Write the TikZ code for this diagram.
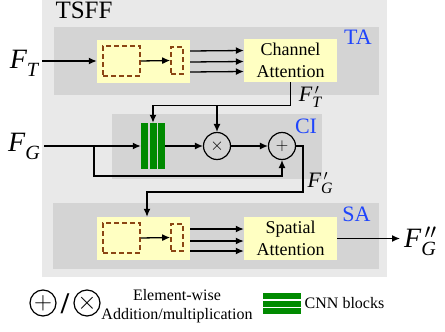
\documentclass[tikz,border=0pt]{standalone}
\usepackage{fontspec}
\setmainfont{Liberation Serif}[ItalicFont={Liberation Serif Italic}, BoldFont={Liberation Serif Bold}]
\usetikzlibrary{arrows, arrows.meta, positioning, calc}
\definecolor{tsffgray}{HTML}{E9E9E9}
\definecolor{blockgray}{HTML}{D4D4D4}
\definecolor{boxyellow}{HTML}{FFFFC2}
\definecolor{dashbrown}{HTML}{8B4513}
\definecolor{cnngreen}{HTML}{008A00}
\definecolor{tagblue}{HTML}{1F45FC}
\newcommand{\feat}[2]{{\itshape F}\rlap{\kern0.12em$^{#1}$}\raisebox{-0.28em}{\scalebox{0.72}{\itshape #2}}}

\begin{document}
\begin{tikzpicture}[x=1pt, y=-1pt]

\tikzstyle{group} = [rectangle, fill=blockgray, inner sep=0pt]
\tikzstyle{box} = [rectangle, fill=boxyellow, minimum width=93pt, minimum height=43pt, inner sep=0pt]
\tikzstyle{attn} = [box, align=center, font=\fontsize{18}{21.5}\selectfont]
\tikzstyle{pool} = [rectangle, draw=dashbrown, dash pattern=on 5pt off 3pt, line width=1.6pt, inner sep=0pt]
\tikzstyle{arrow} = [->, >={Latex[length=8pt, width=7pt]}, line width=1.3pt]
\tikzstyle{oper} = [circle, draw, line width=1.2pt, minimum size=27pt, inner sep=0pt, font=\fontsize{18}{18}\selectfont]
\tikzstyle{tag} = [text=tagblue, font=\fontsize{22}{22}\selectfont]
\tikzstyle{feat} = [font=\fontsize{28}{28}\selectfont, inner sep=4pt]
\tikzstyle{featsmall} = [font=\fontsize{22}{22}\selectfont, inner sep=0pt]
\tikzstyle{legend} = [font=\fontsize{16}{19}\selectfont, align=center]

\useasboundingbox (0,0) rectangle (445,332);

% TSFF frame
\fill[tsffgray] (42,0) rectangle (387,277);
\node[anchor=west, font=\fontsize{25}{25}\selectfont] (tsff) at (52,10) {TSFF};

% TA
\node[group, minimum width=325pt, minimum height=68pt] (ta) at (216.5,61) {};
\node[tag] (tatag) at (358,37) {TA};
\node[box] (tain) at (143.5,61) {};
\node[pool, minimum width=37pt, minimum height=30pt] (tapool) at (121.5,61) {};
\node[pool, minimum width=12pt, minimum height=27pt] (tavec) at (177,60.5) {};
\node[attn] (ca) at (290.5,60.5) {Channel\\Attention};
\node[feat] (ft) at (24,63) {\feat{}{T}};

\draw[arrow] (ft.east |- tain) -- (tain.west);
\draw[arrow] (tapool.east) -- (tavec.west);
\foreach \dy in {10,-1,-11}
  \draw[arrow] ([yshift=\dy pt]tain.east) -- ([yshift=\dy pt]ca.west);

% CI
\node[group, minimum width=210pt, minimum height=65pt] (ci) at (217,146.5) {};
\node[tag] (citag) at (306,126) {CI};
\node[rectangle, minimum width=24pt, minimum height=46pt, inner sep=0pt] (cnn) at (153,146) {};
\foreach \x in {-8.5,0,8.5}
  \fill[cnngreen] ($(cnn.center)+(\x-3.5,-23)$) rectangle ($(cnn.center)+(\x+3.5,23)$);
\node[oper] (mul) at (217,146) {$\times$};
\node[oper] (add) at (282,146) {$+$};
\node[feat] (fg) at (24,146) {\feat{}{G}};
\coordinate (fgsplit) at (94,146);

\draw[arrow] (fg.east |- cnn) -- (cnn.west);
\draw[arrow] (fgsplit) -- ++(0,30) -| (add.south);
\draw[arrow] (cnn.east |- mul) -- (mul.west);
\draw[arrow] (mul.east) -- (add.west);

\coordinate (ftbus) at ($(ca.south)+(0,23)$);
\draw[arrow] (ca.south) -- (ftbus) -| (cnn.north);
\draw[arrow] (mul.north |- ftbus) -- (mul.north);
\node[featsmall] (ftlabel) at (310,97) {\feat{\prime}{T}};

% SA
\node[group, minimum width=326pt, minimum height=66pt] (sa) at (216,236) {};
\node[tag] (satag) at (356.5,214) {SA};
\node[box] (sain) at (143.5,238.5) {};
\node[pool, minimum width=37pt, minimum height=30pt] (sapool) at (121.5,238) {};
\node[pool, minimum width=12pt, minimum height=27pt] (savec) at (177,237.5) {};
\node[attn] (spa) at (290.5,238.5) {Spatial\\Attention};
\node[feat, anchor=west] (fgout) at (400,241) {\feat{\prime\prime}{G}};

\coordinate (fgbus) at ($(add.east)+(7,46)$);
\draw[arrow] (add.east) -| (fgbus) -| ([xshift=3.5pt]sain.north);
\node[featsmall] (fglabel) at (320,183) {\feat{\prime}{G}};

\draw[arrow] (sapool.east) -- (savec.west);
\foreach \dy in {9.5,-2.5,-12.5}
  \draw[arrow] ([yshift=\dy pt]sain.east) -- ([yshift=\dy pt]spa.west);
\draw[arrow] (spa.east) -- (fgout.west |- spa);

% Legend
\node[oper, minimum size=26pt, font=\fontsize{24}{24}\selectfont] (addkey) at (43,303) {$+$};
\node[font=\fontsize{30}{30}\selectfont\bfseries] (slash) at (65,304) {/};
\node[oper, minimum size=26pt, font=\fontsize{24}{24}\selectfont] (mulkey) at (87,303) {$\times$};
\node[legend] (opkey) at (177,306) {Element-wise\\Addition/multiplication};
\node[rectangle, minimum width=38pt, minimum height=21pt, inner sep=0pt] (cnnkey) at (282,303.5) {};
\foreach \y in {-7.5,0,7.5}
  \fill[cnngreen] ($(cnnkey.center)+(-19,\y-3)$) rectangle ($(cnnkey.center)+(19,\y+3)$);
\node[legend, anchor=west] (cnntext) at (cnnkey.east) {CNN blocks};

\end{tikzpicture}
\end{document}
